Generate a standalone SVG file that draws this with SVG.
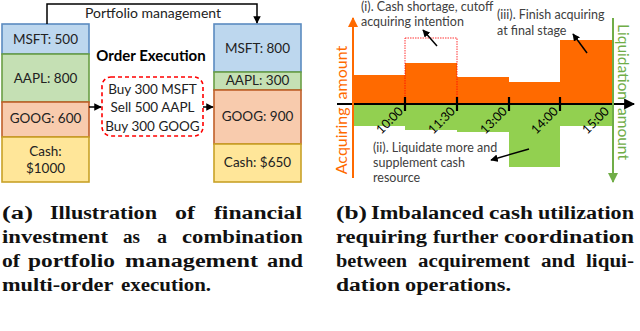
<svg xmlns="http://www.w3.org/2000/svg" width="640" height="331" viewBox="0 0 640 331">
<defs>
<style>
.t{font-family:Lato,"Open Sans","DejaVu Sans",sans-serif;font-size:13.5px;fill:#222;text-anchor:middle}
.n{font-family:Lato,"Open Sans","DejaVu Sans",sans-serif;font-size:12.5px;fill:#404040}
.cap{font-family:"Liberation Serif","DejaVu Serif",serif;font-size:18.5px;font-weight:bold;fill:#111}
.ms{fill:#BDD7EE;stroke:#5B8BC0;stroke-width:1.6}
.aa{fill:#C5E0B4;stroke:#6A9F45;stroke-width:1.6}
.go{fill:#F8CBAD;stroke:#C0602A;stroke-width:1.6}
.ca{fill:#FFE699;stroke:#C9A227;stroke-width:1.6}
.ob{fill:#FF6A00}
.gb{fill:#92D050}
.blk{stroke:#000;stroke-width:1.5;fill:none}
</style>
<marker id="ah" viewBox="0 0 10 10" refX="9" refY="5" markerWidth="5" markerHeight="5" orient="auto"><path d="M0,0L10,5L0,10z" fill="#000"/></marker>
<marker id="ao" viewBox="0 0 10 10" refX="9" refY="5" markerWidth="5" markerHeight="5" orient="auto"><path d="M0,0L10,5L0,10z" fill="#FF6A00"/></marker>
<marker id="ag" viewBox="0 0 10 10" refX="9" refY="5" markerWidth="5" markerHeight="5" orient="auto"><path d="M0,0L10,5L0,10z" fill="#70AD47"/></marker>
</defs>

<g id="left-portfolio">
<rect class="ms" x="2" y="24" width="87" height="30"/>
<text class="t" x="45.5" y="44">MSFT: 500</text>
<rect class="aa" x="2" y="54" width="87" height="48"/>
<text class="t" x="45.5" y="83">AAPL: 800</text>
<rect class="go" x="2" y="102" width="87" height="35"/>
<text class="t" x="45.5" y="123">GOOG: 600</text>
<rect class="ca" x="2" y="137" width="87" height="45"/>
<text class="t" x="45.5" y="156">Cash:</text>
<text class="t" x="45.5" y="173">$1000</text>
</g>

<g id="right-portfolio">
<rect class="ms" x="214" y="24" width="87" height="48"/>
<text class="t" x="257.5" y="53">MSFT: 800</text>
<rect class="aa" x="214" y="72" width="87" height="18"/>
<text class="t" x="257.5" y="85">AAPL: 300</text>
<rect class="go" x="214" y="90" width="87" height="54"/>
<text class="t" x="257.5" y="121">GOOG: 900</text>
<rect class="ca" x="214" y="144" width="87" height="38"/>
<text class="t" x="257.5" y="167">Cash: $650</text>
</g>

<g id="orders">
<rect x="102" y="77" width="101" height="59" rx="9" fill="none" stroke="#FF0000" stroke-width="1.6" stroke-dasharray="4,3"/>
<text class="t" x="152.5" y="94">Buy 300 MSFT</text>
<text class="t" x="152.5" y="112">Sell 500 AAPL</text>
<text class="t" x="152.5" y="131">Buy 300 GOOG</text>
</g>

<g id="labels-left">
<text x="151" y="61" style="font-family:Lato,'Open Sans',sans-serif;font-size:15px;font-weight:bold;fill:#000;text-anchor:middle">Order Execution</text>
<text x="153" y="18" class="t" style="font-size:14px">Portfolio management</text>
</g>

<g id="connectors-left">
<path class="blk" d="M47,24V4H257V23" marker-end="url(#ah)"/>
<path class="blk" d="M89,107H101" marker-end="url(#ah)"/>
<path class="blk" d="M203,107H213" marker-end="url(#ah)"/>
</g>

<g id="chart">
<rect class="ob" x="353" y="75" width="52" height="29"/>
<rect class="ob" x="405" y="63" width="52" height="41"/>
<rect class="ob" x="457" y="77" width="52" height="27"/>
<rect class="ob" x="509" y="82" width="51" height="22"/>
<rect class="ob" x="560" y="40" width="53" height="64"/>
<rect class="gb" x="353" y="104" width="52" height="22"/>
<rect class="gb" x="405" y="104" width="52" height="26"/>
<rect class="gb" x="457" y="104" width="52" height="28"/>
<rect class="gb" x="509" y="104" width="51" height="63"/>
<rect class="gb" x="560" y="104" width="53" height="22"/>
<rect x="405" y="38" width="52" height="66" fill="none" stroke="#FF0000" stroke-width="0.8" stroke-dasharray="1.5,1"/>
</g>

<g id="axes">
<path d="M337,104H634" stroke="#000" stroke-width="2.2" fill="none" marker-end="url(#ah)"/>
<path d="M405,97V111M457,97V111M509,97V111M560,97V111" stroke="#000" stroke-width="2.2"/>
<path d="M353,178V18" stroke="#FF6A00" stroke-width="2" fill="none" marker-end="url(#ao)"/>
<path d="M613,18V182" stroke="#70AD47" stroke-width="2" fill="none" marker-end="url(#ag)"/>
<text transform="translate(347,110) rotate(-90)" style="font-family:Lato,'Open Sans',sans-serif;font-size:16px;fill:#FF6A00;text-anchor:middle;word-spacing:4px">Acquiring amount</text>
<text transform="translate(618,92) rotate(90)" style="font-family:Lato,'Open Sans',sans-serif;font-size:15.5px;fill:#70AD47;text-anchor:middle;word-spacing:4px">Liquidation amount</text>
</g>

<g id="ticks">
<text class="n" style="fill:#000;text-anchor:end" transform="translate(404,112) rotate(-45)">10:00</text>
<text class="n" style="fill:#000;text-anchor:end" transform="translate(456,112) rotate(-45)">11:30</text>
<text class="n" style="fill:#000;text-anchor:end" transform="translate(508,112) rotate(-45)">13:00</text>
<text class="n" style="fill:#000;text-anchor:end" transform="translate(559,112) rotate(-45)">14:00</text>
<text class="n" style="fill:#000;text-anchor:end" transform="translate(610,112) rotate(-45)">15:00</text>
</g>

<g id="annotations">
<text class="n" x="361" y="11">(i). Cash shortage, cutoff</text>
<text class="n" x="361" y="26">acquiring intention</text>
<text class="n" x="497" y="19">(iii). Finish acquiring</text>
<text class="n" x="497" y="35">at final stage</text>
<text class="n" x="373" y="152">(ii). Liquidate more and</text>
<text class="n" x="373" y="167">supplement cash</text>
<text class="n" x="373" y="182">resource</text>
</g>

<g id="connectors-right">
<path class="blk" d="M437,46L423,30" marker-end="url(#ah)"/>
<path class="blk" d="M587,53L573,34" marker-end="url(#ah)"/>
<path class="blk" d="M529,149L491,160" marker-end="url(#ah)"/>
</g>

<g id="captions">
<text class="cap" y="219"><tspan x="2" textLength="31" lengthAdjust="spacingAndGlyphs">(a)</tspan> <tspan x="50" textLength="107" lengthAdjust="spacingAndGlyphs">Illustration</tspan> <tspan x="175" textLength="20" lengthAdjust="spacingAndGlyphs">of</tspan> <tspan x="214" textLength="88" lengthAdjust="spacingAndGlyphs">financial</tspan></text>
<text class="cap" y="243"><tspan x="2" textLength="106" lengthAdjust="spacingAndGlyphs">investment</tspan> <tspan x="123" textLength="17" lengthAdjust="spacingAndGlyphs">as</tspan> <tspan x="157" textLength="10" lengthAdjust="spacingAndGlyphs">a</tspan> <tspan x="182" textLength="121" lengthAdjust="spacingAndGlyphs">combination</tspan></text>
<text class="cap" y="267"><tspan x="2" textLength="18" lengthAdjust="spacingAndGlyphs">of</tspan> <tspan x="28" textLength="87" lengthAdjust="spacingAndGlyphs">portfolio</tspan> <tspan x="125" textLength="133" lengthAdjust="spacingAndGlyphs">management</tspan> <tspan x="267" textLength="36" lengthAdjust="spacingAndGlyphs">and</tspan></text>
<text class="cap" y="291"><tspan x="2" textLength="111" lengthAdjust="spacingAndGlyphs">multi-order</tspan> <tspan x="121" textLength="90" lengthAdjust="spacingAndGlyphs">execution.</tspan></text>
<text class="cap" y="219"><tspan x="336" textLength="31" lengthAdjust="spacingAndGlyphs">(b)</tspan> <tspan x="371" textLength="113" lengthAdjust="spacingAndGlyphs">Imbalanced</tspan> <tspan x="489" textLength="44" lengthAdjust="spacingAndGlyphs">cash</tspan> <tspan x="538" textLength="96" lengthAdjust="spacingAndGlyphs">utilization</tspan></text>
<text class="cap" y="243"><tspan x="336" textLength="91" lengthAdjust="spacingAndGlyphs">requiring</tspan> <tspan x="433" textLength="65" lengthAdjust="spacingAndGlyphs">further</tspan> <tspan x="504" textLength="130" lengthAdjust="spacingAndGlyphs">coordination</tspan></text>
<text class="cap" y="267"><tspan x="336" textLength="71" lengthAdjust="spacingAndGlyphs">between</tspan> <tspan x="418" textLength="112" lengthAdjust="spacingAndGlyphs">acquirement</tspan> <tspan x="541" textLength="34" lengthAdjust="spacingAndGlyphs">and</tspan> <tspan x="586" textLength="48" lengthAdjust="spacingAndGlyphs">liqui-</tspan></text>
<text class="cap" y="291"><tspan x="336" textLength="64" lengthAdjust="spacingAndGlyphs">dation</tspan> <tspan x="405" textLength="106" lengthAdjust="spacingAndGlyphs">operations.</tspan></text>
</g>
</svg>
